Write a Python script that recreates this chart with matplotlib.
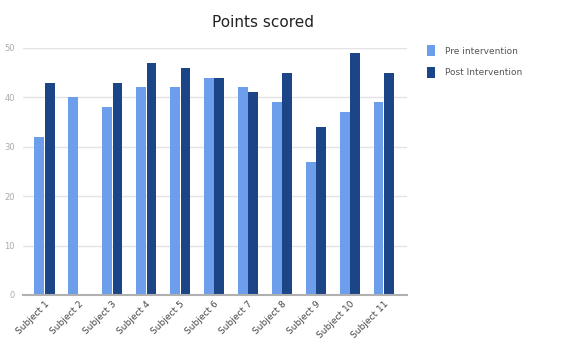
import matplotlib
matplotlib.use("Agg")
import matplotlib.pyplot as plt
import numpy as np

subjects = [f"Subject {i}" for i in range(1, 12)]
pre_scores = [32, 40, 38, 42, 42, 44, 42, 39, 27, 37, 39]
post_scores = [43, 0, 43, 47, 46, 44, 41, 45, 34, 49, 45]
y_ticks = [0, 10, 20, 30, 40, 50]

pre_color = "#6d9eeb"
post_color = "#1c4587"

fig = plt.figure(figsize=(5.62, 3.45), dpi=100)
ax = fig.add_axes([0.041, 0.145, 0.683, 0.716])

x = np.arange(len(subjects))
w = 0.29
ax.bar(x - w / 2 - 0.01, pre_scores, width=w, color=pre_color, label="Pre intervention", zorder=3)
ax.bar(x + w / 2 + 0.01, post_scores, width=w, color=post_color, label="Post Intervention", zorder=3)

ax.set_xlim(-0.63, len(subjects) - 1 + 0.68)
ax.set_ylim(0, 50)
ax.set_yticks(y_ticks)
ax.set_yticklabels([str(t) for t in y_ticks], fontsize=6, color="#aaaaaa")
ax.set_xticks(x)
ax.set_xticklabels(subjects, rotation=45, ha="right", rotation_mode="anchor",
                   fontsize=6.5, color="#444444")
ax.tick_params(axis="both", length=0, pad=3)
ax.tick_params(axis="y", pad=6)

ax.grid(axis="y", color="#e3e3e3", linewidth=1, zorder=0)
for s in ["top", "right", "left"]:
    ax.spines[s].set_visible(False)
ax.spines["bottom"].set_color("#b0b0b0")
ax.spines["bottom"].set_linewidth(1.5)
ax.spines["bottom"].set_zorder(4)

fig.text(0.468, 0.935, "Points scored", ha="center", va="center",
         fontsize=11, color="#222222")

leg = fig.legend(loc="upper left", bbox_to_anchor=(0.745, 0.893), frameon=False,
                 fontsize=6.5, handlelength=0.9, handleheight=1.5,
                 handletextpad=1.1, labelspacing=1.2)
for t in leg.get_texts():
    t.set_color("#555555")

fig.savefig("out.png", dpi=100)
